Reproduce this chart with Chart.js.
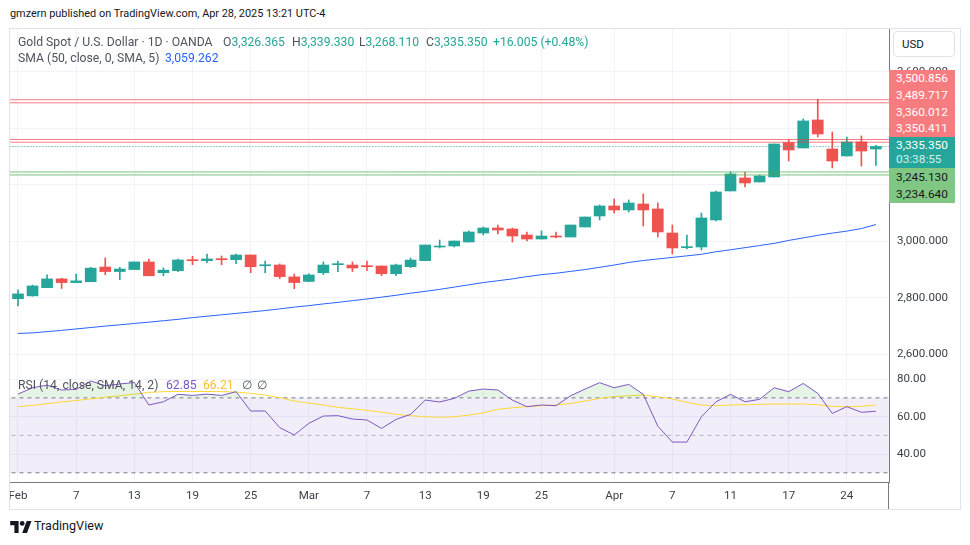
<!DOCTYPE html>
<html><head><meta charset="utf-8">
<script src="https://cdn.jsdelivr.net/npm/chart.js@4.4.1/dist/chart.umd.min.js"></script>
<style>
html,body{margin:0;padding:0;background:#fff}
body{width:970px;height:545px;position:relative;overflow:hidden;font-family:Roboto,'Noto Sans',sans-serif;color:#131722}
.t{position:absolute;white-space:nowrap;line-height:1}
.l{font-size:12.2px}
#frame{position:absolute;left:9px;top:28px;width:952px;height:482px;box-sizing:border-box;border:1px solid #e0e3eb}
canvas{position:absolute;left:10px}
#c1{top:29px}
#c2{top:369px}
.box{position:absolute;left:889px;width:66px;box-sizing:border-box;padding-left:7px;font-size:11.8px;color:#fff}
.box div{line-height:16.75px;height:16.75px}
#usd{position:absolute;left:893px;top:31px;width:62px;height:26px;box-sizing:border-box;border:1px solid #e0e3eb;border-radius:4px;font-size:11.5px;line-height:24px;padding-left:8px;background:#fff}
.g{color:#26a69a}.k{color:#50535e}
</style></head><body>
<div id="frame"></div>
<canvas id="c1" width="950" height="340"></canvas>
<canvas id="c2" width="950" height="140"></canvas>
<div class="t" style="left:10px;top:9px;font-size:10.9px">gmzern published on TradingView.com, Apr 28, 2025 13:21 UTC-4</div>
<div class="t k l" style="left:18px;top:36px">Gold Spot / U.S. Dollar · 1D · OANDA</div>
<div class="t l" style="left:223px;top:36px"><span class="k">O</span><span class="g" id="vO"></span></div>
<div class="t l" style="left:292px;top:36px"><span class="k">H</span><span class="g" id="vH"></span></div>
<div class="t l" style="left:359px;top:36px"><span class="k">L</span><span class="g" id="vL"></span></div>
<div class="t l" style="left:426px;top:36px"><span class="k">C</span><span class="g" id="vC"></span></div>
<div class="t g l" style="left:493px;top:36px">+16.005 (+0.48%)</div>
<div class="t k l" style="left:18px;top:52px">SMA (50, close, 0, SMA, 5)</div>
<div class="t l" style="left:165px;top:52px;color:#2962ff" id="vSma"></div>
<div class="t k l" style="left:18px;top:379px">RSI (14, close, SMA, 14, 2)</div>
<div class="t l" style="left:166px;top:379px;color:#7e57c2" id="vRsi"></div>
<div class="t l" style="left:203px;top:379px;color:#fbc02d" id="vRsiS"></div>
<div class="t k l" style="left:242px;top:379px">∅</div>
<div class="t k l" style="left:257px;top:379px">∅</div>
<div id="usd">USD</div>
<div class="box" id="redBox" style="top:70px;height:67px;background:#f77c80"></div>
<div class="box" id="tealBox" style="top:137px;height:31px;background:#26a69a"></div>
<div class="box" id="greenBox" style="top:168px;height:35px;background:#81c784;color:#131722;padding-top:1px"></div>
<div style="position:absolute;left:888px;top:482px;width:1px;height:27px;background:#787b86"></div>
<svg style="position:absolute;left:10px;top:521px" width="22" height="12" viewBox="0 0 36 20"><path d="M14 20H7V7H0V0h14v20zM28 20h-8L27.5 0h8L28 20z" fill="#131722"/><circle cx="20" cy="4" r="4" fill="#131722"/></svg>
<div class="t" style="left:34px;top:520px;font-size:12.6px">TradingView</div>
<script>
const dates = ['2025-02-03','2025-02-04','2025-02-05','2025-02-06','2025-02-07','2025-02-10','2025-02-11','2025-02-12','2025-02-13','2025-02-14',
'2025-02-17','2025-02-18','2025-02-19','2025-02-20','2025-02-21','2025-02-24','2025-02-25','2025-02-26','2025-02-27','2025-02-28',
'2025-03-03','2025-03-04','2025-03-05','2025-03-06','2025-03-07','2025-03-10','2025-03-11','2025-03-12','2025-03-13','2025-03-14',
'2025-03-17','2025-03-18','2025-03-19','2025-03-20','2025-03-21','2025-03-24','2025-03-25','2025-03-26','2025-03-27','2025-03-28','2025-03-31',
'2025-04-01','2025-04-02','2025-04-03','2025-04-04','2025-04-07','2025-04-08','2025-04-09','2025-04-10','2025-04-11',
'2025-04-14','2025-04-15','2025-04-16','2025-04-17','2025-04-21','2025-04-22','2025-04-23','2025-04-24','2025-04-25','2025-04-28'];
const opens = [2797,2807,2836,2867,2854,2857,2909,2893,2900,2927,2889,2896,2934,2931.5,2937.5,2935,2951.5,2913.5,2916,2874,
2858,2889,2917.3,2916,2912.6,2912.6,2885.5,2910.3,2931.5,2979.8,2983.4,2997.5,3029.3,3047,3043.5,3022.3,3008.1,3018.7,3015.2,3050.6,3089.5,
3124.9,3110.8,3132,3114.3,3029.4,2977.6,2979.9,3075.4,3178,3224,3209.8,3227.5,3348.9,3330.1,3429.1,3326.5,3301.8,3351.3,3326.365];
const highs = [2828,2845,2881,2869,2884,2908,2941,2908,2927,2937,2906,2937,2947,2955,2948,2955,2951.5,2930,2920,2884,
2885,2927,2930,2927,2930,2913,2919.7,2940.9,2986.9,3004.6,3001,3036.4,3050.6,3057.6,3047,3032.9,3036.4,3032.9,3057.6,3085.9,3128.4,
3149.7,3146.1,3167.4,3135.5,3057.7,3022.3,3100.1,3178,3245.2,3245.2,3234.6,3344.2,3358.4,3432.6,3502.2,3386.6,3369,3372.5,3339.33];
const lows = [2771,2806,2836,2833,2854,2857,2882,2864,2900,2878,2878,2893,2917,2924,2917,2921,2889,2889,2868,2832.5,
2857,2882,2892.6,2893,2896,2878.4,2878.4,2906.7,2931.5,2976.3,2979.8,2997.5,3022.3,3025.8,2997.5,3001,3008.1,3011.7,3015.2,3050.6,3075.4,
3100.1,3103.7,3054.2,3015.3,2955.1,2972.8,2969.3,3071.9,3178,3192.1,3209.8,3227.5,3284.1,3330.1,3369,3259.3,3301.8,3266.4,3268.11];
const closes = [2814,2842,2867,2854,2860,2905,2893,2902,2927,2878,2898,2934,2931.5,2937.5,2935,2951.5,2910,2916,2875,2854,
2881,2916,2919.7,2905.5,2910.3,2885.5,2916.2,2933.8,2986.9,2983.4,3001,3032.9,3047,3039.9,3018.7,3008.1,3018.7,3015.2,3057.6,3085.9,3124.9,
3110.8,3135.5,3110.8,3033,2976.4,2981,3082.5,3174.4,3238.1,3206.3,3231,3344.2,3323,3425.6,3379.6,3284.1,3351.3,3319.345,3335.35];
const sma50 = [2674,2676,2680.5,2685,2690,2695,2700,2704.5,2709.5,2714,2719,2724,2730,2735,2740,2745,2750,2755,2761,2767,
2772.5,2778.5,2784,2790,2796,2802.5,2809,2816.5,2823,2830,2838,2846,2854,2860.5,2867,2875,2882,2887,2893.5,2900,2908,
2916,2925,2932,2937.5,2943,2948.5,2954,2963,2970,2977.5,2985,2992.5,3003,3012,3021,3029,3036,3045,3059.262];
const rsi = [72,75.4,76.8,74.2,74.5,79,76.5,77.4,78.2,66.2,67.9,71.9,71.3,72,71.3,73.3,63,63,54.1,50.2,
56.4,60.3,60.5,58.7,58.2,53.7,58.5,61.2,68.8,67.8,69.7,73.6,74.7,74.2,68.8,65.3,66.2,65.8,71.1,74.7,78.1,
75.4,77.2,71.9,54.9,46.4,46.4,59.9,67.9,71.9,67.9,69.2,75.4,73.3,77.7,72.4,61.7,65.3,62.3,62.85];
const rsiSma = [65.3,66,66.9,67.8,68.6,69.4,70.4,71.1,72,72.9,73.3,73.4,73.4,73.4,73.3,73.1,72.4,71.5,70.1,68.3,
67.2,66.2,64.9,64.2,63.3,62.4,61.2,60.5,59.9,59.6,59.9,60.8,62,63.9,64.7,65.3,65.8,66.2,67,68.3,69.7,
70.7,71.1,71.5,70.6,69.4,67.6,66.2,65.8,66.2,66.3,66.5,66.7,66.7,66.7,66.3,65.5,65.3,65.5,66.21];
const tickDates = ['2025-02-03','2025-02-07','2025-02-13','2025-02-19','2025-02-25','2025-03-03','2025-03-07','2025-03-13','2025-03-19','2025-03-25','2025-04-01','2025-04-07','2025-04-11','2025-04-17','2025-04-24'];
const tickLabels = ['Feb','7','13','19','25','Mar','7','13','19','25','Apr','7','11','17','24'];
const priceTicks = [2600,2800,3000,3200,3400,3600];
const rsiTicks = [40,60,80];
const levelsRed = [3500.856,3489.717,3360.012,3350.411];
const levelsGreen = [3245.130,3234.640];
const lastPrice = 3335.350;
const countdown = '03:38:55';
const rsiBands = [70,50,30];

const UP='#26a69a', DOWN='#ef5350';
const FONT = {family:"Roboto, 'Noto Sans', sans-serif", size:11.6};
const TXT = '#3b3e48';
const xMin = -0.55, xMax = 59.9;
const fmt3 = v => v.toLocaleString('en-US',{minimumFractionDigits:3,maximumFractionDigits:3});
const tickIdx = tickDates.map(d => dates.indexOf(d));
const colors = opens.map((o,i) => closes[i] >= o ? UP : DOWN);
const hline = (v) => [{x:-1,y:v},{x:dates.length+1,y:v}];
const last = dates.length-1;

document.getElementById('vO').textContent = fmt3(opens[last]);
document.getElementById('vH').textContent = fmt3(highs[last]);
document.getElementById('vL').textContent = fmt3(lows[last]);
document.getElementById('vC').textContent = fmt3(closes[last]);
document.getElementById('vSma').textContent = fmt3(sma50[last]);
document.getElementById('vRsi').textContent = rsi[last].toFixed(2);
document.getElementById('vRsiS').textContent = rsiSma[last].toFixed(2);
document.getElementById('redBox').innerHTML = levelsRed.map(v=>'<div>'+fmt3(v)+'</div>').join('');
document.getElementById('tealBox').innerHTML = '<div style="height:15px;line-height:16px">'+fmt3(lastPrice)+'</div><div style="height:15px;line-height:15px;color:#d4f0ec">'+countdown+'</div>';
document.getElementById('greenBox').innerHTML = levelsGreen.map(v=>'<div>'+fmt3(v)+'</div>').join('');

const xScale = (showLabels) => ({
  type:'linear', min:xMin, max:xMax, offset:false,
  afterBuildTicks: s => { s.ticks = tickIdx.map(v => ({value:v})); },
  ticks:{display:showLabels, autoSkip:false, maxRotation:0, padding:7, font:FONT, color:TXT,
    callback:(v,i) => tickLabels[i]},
  grid:{color:'#f0f3fa', drawTicks:false, offset:false},
  border:{display:true, color: showLabels ? '#787b86' : '#e0e3eb'},
  afterFit: s => { s.height = showLabels ? 27 : 0; s.paddingLeft = 0; s.paddingRight = 0; }
});

const lineDs = (data, color, extra) => Object.assign({type:'line', data, borderColor:color, borderWidth:1, pointRadius:0, tension:0, fill:false}, extra||{});

new Chart(document.getElementById('c1'), {
  type:'bar',
  data:{datasets:[
    ...levelsRed.map(v => lineDs(hline(v), 'rgba(242,54,69,0.65)', {order:-1})),
    ...levelsGreen.map(v => lineDs(hline(v), 'rgba(76,175,80,0.75)', {order:-1})),
    lineDs(hline(lastPrice), '#26a69a', {borderDash:[1,2], order:-1}),
    lineDs(sma50.map((v,i)=>({x:i,y:v})), '#2962ff', {order:3}),
    {type:'bar', data: lows.map((l,i)=>({x:i,y:[l,highs[i]]})), backgroundColor:colors, barThickness:1, grouped:false, order:2},
    {type:'bar', data: opens.map((o,i)=>({x:i,y:[o,closes[i]]})), backgroundColor:colors, barThickness:11, grouped:false, minBarLength:1, order:1}
  ]},
  options:{
    responsive:false, animation:false,
    layout:{padding:0},
    plugins:{legend:{display:false}, tooltip:{enabled:false}},
    scales:{
      x: xScale(false),
      y:{position:'right', min:2548.3, max:3750.9,
        afterBuildTicks: s => { s.ticks = priceTicks.map(v=>({value:v})); },
        ticks:{padding:8, font:FONT, color:TXT, callback: v => fmt3(v)},
        grid:{color:'#f0f3fa', drawTicks:false},
        border:{display:true, color:'#787b86'},
        afterFit: s => { s.width = 71; s.paddingTop = 0; s.paddingBottom = 0; }
      }
    }
  }
});

new Chart(document.getElementById('c2'), {
  type:'line',
  data:{datasets:[
    lineDs(rsi.map((v,i)=>({x:i,y:v})), '#7e57c2', {order:0, fill:{target:{value:70}, above:'rgba(76,175,80,0.14)', below:'rgba(0,0,0,0)'}}),
    lineDs(rsiSma.map((v,i)=>({x:i,y:v})), '#fdd835', {order:1}),
    lineDs(hline(rsiBands[0]), '#787b86', {borderDash:[4,4], order:4, fill:3, backgroundColor:'rgba(126,87,194,0.1)'}),
    lineDs(hline(rsiBands[2]), '#787b86', {borderDash:[4,4], order:4}),
    lineDs(hline(rsiBands[1]), 'rgba(120,123,134,0.5)', {borderDash:[4,4], order:3})
  ]},
  options:{
    responsive:false, animation:false,
    layout:{padding:0},
    plugins:{legend:{display:false}, tooltip:{enabled:false}},
    scales:{
      x: xScale(true),
      y:{position:'right', min:25.1, max:85.4,
        afterBuildTicks: s => { s.ticks = rsiTicks.map(v=>({value:v})); },
        ticks:{padding:8, font:FONT, color:TXT, callback: v => v.toFixed(2)},
        grid:{color:'#f0f3fa', drawTicks:false},
        border:{display:true, color:'#787b86'},
        afterFit: s => { s.width = 71; s.paddingTop = 0; s.paddingBottom = 0; }
      }
    }
  }
});
</script>
</body></html>
